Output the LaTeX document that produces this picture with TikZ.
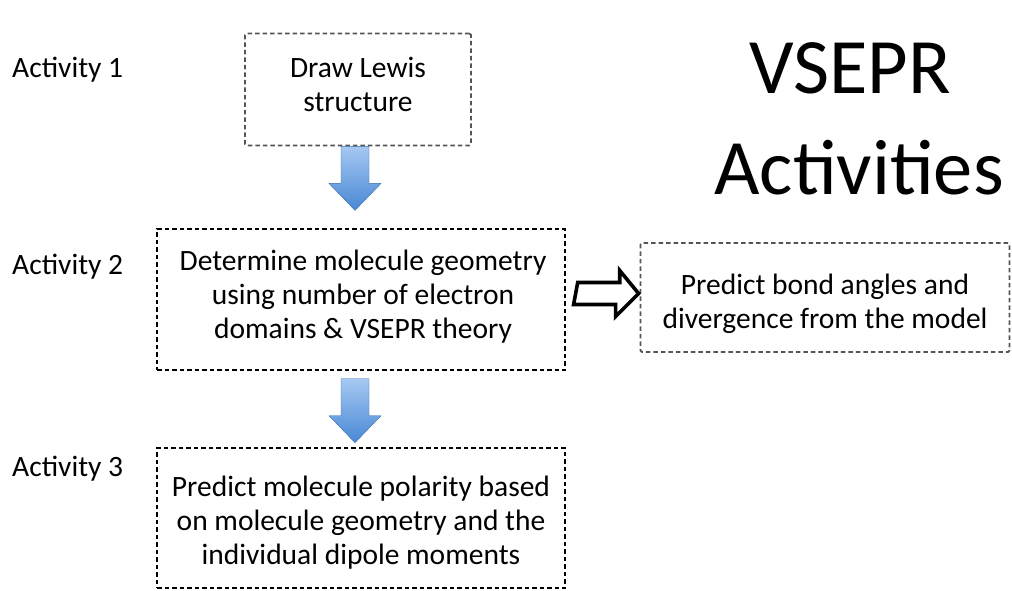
\documentclass[tikz,border=0pt]{standalone}
\usepackage{fontspec}
\setmainfont{Carlito}
\usepackage{tikz}
\usetikzlibrary{calc}
\usetikzlibrary{positioning}

\definecolor{arrowtop}{RGB}{166,200,242}
\definecolor{arrowbot}{RGB}{72,136,212}
\definecolor{boxgray}{RGB}{85,85,85}

\tikzset{
    actbox/.style={draw, rectangle, inner sep=0pt, line width=1.4pt,
        dash pattern=on 4.5pt off 3pt},
    graybox/.style={actbox, draw=boxgray, line width=1.8pt, rounded corners=1.5pt},
    boxtext/.style={align=center, inner sep=0pt, font=\fontsize{29.5}{34}\selectfont},
    actlabel/.style={anchor=base west, inner sep=0pt, font=\fontsize{29.5}{34}\selectfont},
    titletext/.style={anchor=base, inner sep=0pt, font=\fontsize{78.5}{100}\selectfont},
    bluedown/.pic={
        \path[top color=arrowtop, bottom color=arrowbot, draw=arrowbot!80!black, line width=0.4pt]
            (-14,0) -- (14,0) -- (14,-37) -- (26,-37) -- (0,-64) -- (-26,-37) -- (-14,-37) -- cycle;
    }
}

\begin{document}
\begin{tikzpicture}[x=1pt, y=1pt]
\useasboundingbox (0,0) rectangle (1012,-590);

\node[titletext] (title1) at (850,-93) {VSEPR};
\node[titletext] (title2) at (859,-194) {Activities};

\node[actlabel] (act1) at (12,-77) {Activity 1};
\node[actlabel] (act2) at (12,-274) {Activity 2};
\node[actlabel] (act3) at (12,-476) {Activity 3};

\node[graybox, minimum width=226pt, minimum height=112pt] (lewis) at (358,-89.5) {};
\node[graybox, minimum width=369pt, minimum height=109pt] (angles) at (825,-297.5) {};
\node[actbox, minimum width=408pt, minimum height=141pt] (geom) at (361,-299.5) {};
\node[actbox, minimum width=408pt, minimum height=140pt] (polar) at (361,-518) {};

\node[boxtext] (lewistxt) at ($(lewis)+(0,5)$) {Draw Lewis\\structure};
\node[boxtext] (anglestxt) at ($(angles)+(0,-6)$) {Predict bond angles and\\divergence from the model};
\node[boxtext] (geomtxt) at ($(geom)+(2,3)$)
    {Determine molecule geometry\\using number of electron\\domains \& VSEPR theory};
\node[boxtext] (polartxt) at ($(polar)+(0,-5)$)
    {Predict molecule polarity based\\on molecule geometry and the\\individual dipole moments};

\pic at ($(lewis.south)+(-3,0)$) {bluedown};
\pic at ($(geom.south)+(-6,-8)$) {bluedown};

\coordinate (wstart) at ($(geom.east)+(12,6)$);
\coordinate (wtip) at ($(angles.west |- wstart)+(-1,0)$);
\draw[line width=3.6pt, fill=white, line join=miter]
    (wstart) ++(0,11) -- ++(42,0) -- ++(0,12) -- (wtip) -- ++(-23,-23) -- ++(0,12)
    -- ++(-42,0) -- cycle;
\end{tikzpicture}
\end{document}
